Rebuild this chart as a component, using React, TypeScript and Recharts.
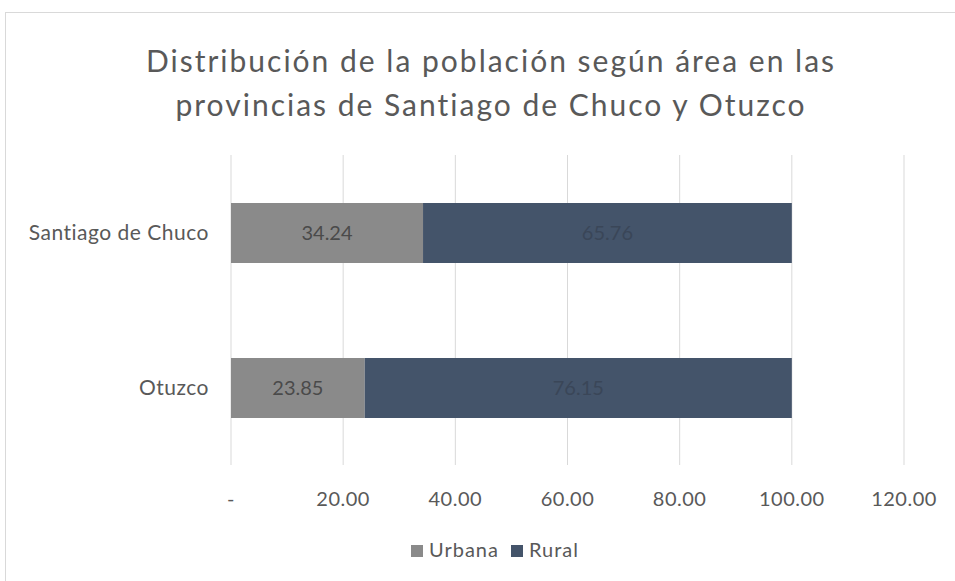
import { BarChart, Bar, XAxis, YAxis, CartesianGrid, LabelList } from "recharts";

const provinces = ["Santiago de Chuco", "Otuzco"];
const urbana = [34.24, 23.85];
const rural = [65.76, 76.15];
const xTicks = [0, 20, 40, 60, 80, 100, 120];

const data = provinces.map((name, i) => ({ name, urbana: urbana[i], rural: rural[i] }));

const FONT = "Lato, 'Open Sans', sans-serif";
const TEXT = "#595959";

const fmtTick = (v: number) => (v === 0 ? "-" : v.toFixed(2));

export default function App() {
	return (
		<div style={{ position: "absolute", left: 0, top: 0, width: 955, height: 581, background: "#fff", fontFamily: FONT, overflow: "hidden" }}>
			<div style={{ position: "absolute", left: 5, top: 12, right: -2, bottom: -2, border: "1px solid #d9d9d9" }} />
			<div style={{ position: "absolute", left: 0, width: 982, top: 38, textAlign: "center", fontSize: 30, letterSpacing: 2, lineHeight: "44px", color: TEXT }}>
				Distribución de la población según área en las
				<br />
				provincias de Santiago de Chuco y Otuzco
			</div>
			<BarChart
				width={955}
				height={581}
				data={data}
				layout="vertical"
				margin={{ top: 155, right: 51, bottom: 76, left: 8 }}
				barSize={60}
				style={{ position: "absolute", left: 0, top: 0 }}
			>
				<CartesianGrid horizontal={false} stroke="#d9d9d9" />
				<XAxis
					type="number"
					domain={[0, 120]}
					ticks={xTicks}
					tickFormatter={fmtTick}
					axisLine={false}
					tickLine={false}
					tickMargin={21}
					height={40}
					tick={{ fontSize: 20, fill: TEXT, fontFamily: FONT, letterSpacing: 0.5 }}
				/>
				<YAxis
					type="category"
					dataKey="name"
					width={223}
					axisLine={false}
					tickLine={false}
					tickMargin={16}
					tick={{ fontSize: 21, fill: TEXT, fontFamily: FONT, letterSpacing: 0.5 }}
				/>
				<Bar dataKey="urbana" stackId="a" fill="#8a8a8a" isAnimationActive={false}>
					<LabelList dataKey="urbana" position="center" fill="#4a4a4a" fontSize={20} fontFamily={FONT} formatter={(v: number) => v.toFixed(2)} />
				</Bar>
				<Bar dataKey="rural" stackId="a" fill="#44546a" isAnimationActive={false}>
					<LabelList dataKey="rural" position="center" fill="#3a4658" fontSize={20} fontFamily={FONT} formatter={(v: number) => v.toFixed(2)} />
				</Bar>
			</BarChart>
			<div style={{ position: "absolute", left: 0, width: 990, top: 537, textAlign: "center", fontSize: 20, letterSpacing: 1, color: TEXT }}>
				<span style={{ display: "inline-block", width: 12, height: 12, background: "#8a8a8a", marginRight: 6 }} />
				Urbana
				<span style={{ display: "inline-block", width: 12, height: 12, background: "#44546a", marginLeft: 12, marginRight: 6 }} />
				Rural
			</div>
		</div>
	);
}
